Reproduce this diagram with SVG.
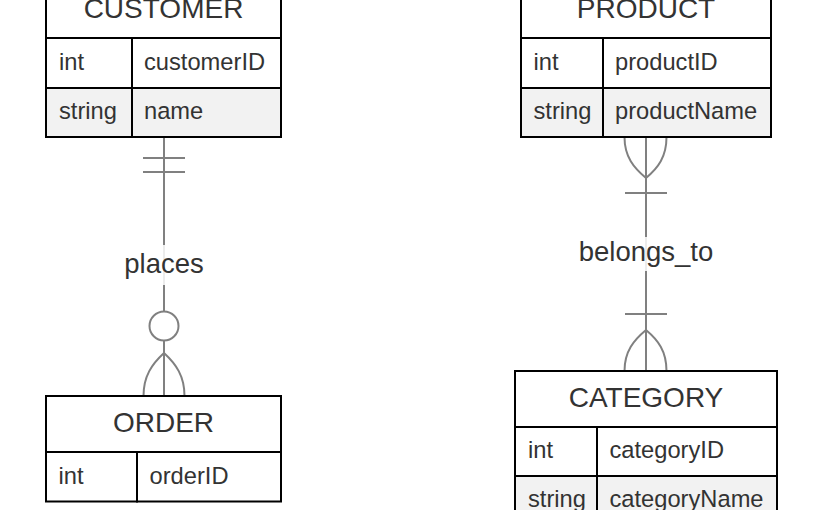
<svg xmlns="http://www.w3.org/2000/svg" width="825" height="510" viewBox="0 0 825 510">
<style>
.box{fill:#ffffff;stroke:#000000;stroke-width:2}
.alt{fill:#f2f2f2;stroke:#000000;stroke-width:2}
.hd{font-family:"Liberation Sans",Arial,sans-serif;font-size:28px;fill:#333333;text-anchor:middle}
.at{font-family:"Liberation Sans",Arial,sans-serif;font-size:23.7px;fill:#333333}
.lb{font-family:"Liberation Sans",Arial,sans-serif;font-size:27.5px;fill:#333333;text-anchor:middle}
.ln{fill:none;stroke:#808080;stroke-width:2}
.lbg{fill:#ffffff;fill-opacity:0.85;stroke:none}
</style>
<rect width="825" height="510" fill="#ffffff"/>
<g id="connectors">
  <g id="places-edge">
    <line class="ln" x1="164" y1="137" x2="164" y2="396"/>
    <line class="ln" x1="143" y1="158" x2="185" y2="158"/>
    <line class="ln" x1="143" y1="172" x2="185" y2="172"/>
    <circle cx="164" cy="326" r="14.5" fill="#ffffff" stroke="#808080" stroke-width="2"/>
    <path class="ln" d="M164,353 C152,364 143.5,376 143.5,396"/>
    <path class="ln" d="M164,353 C176,364 184.5,376 184.5,396"/>
    <rect class="lbg" x="122" y="245" width="84" height="40"/>
    <text class="lb" x="164" y="273">places</text>
  </g>
  <g id="belongs-edge">
    <line class="ln" x1="646" y1="137" x2="646" y2="371"/>
    <path class="ln" d="M646,178 C634,168 624.5,157 624.5,137"/>
    <path class="ln" d="M646,178 C658,168 666.5,157 666.5,137"/>
    <line class="ln" x1="625" y1="193" x2="667" y2="193"/>
    <line class="ln" x1="625" y1="314" x2="667" y2="314"/>
    <path class="ln" d="M646,330 C634,340 624.5,351 624.5,371"/>
    <path class="ln" d="M646,330 C658,340 666.5,351 666.5,371"/>
    <rect class="lbg" x="575" y="237" width="142" height="34"/>
    <text class="lb" x="646" y="261">belongs_to</text>
  </g>
</g>
<g id="CUSTOMER">
  <rect class="box" x="46" y="-18" width="235" height="56"/>
  <text class="hd" x="163.5" y="18">CUSTOMER</text>
  <rect class="box" x="46" y="38" width="86" height="50"/>
  <rect class="box" x="132" y="38" width="149" height="50"/>
  <rect class="alt" x="46" y="88" width="86" height="49"/>
  <rect class="alt" x="132" y="88" width="149" height="49"/>
  <text class="at" x="59" y="70">int</text>
  <text class="at" x="144" y="70">customerID</text>
  <text class="at" x="59" y="119">string</text>
  <text class="at" x="144" y="119">name</text>
</g>
<g id="ORDER">
  <rect class="box" x="46" y="396" width="235" height="56"/>
  <text class="hd" x="163.5" y="432">ORDER</text>
  <rect class="box" x="46" y="452" width="91" height="49.5"/>
  <rect class="box" x="137" y="452" width="144" height="49.5"/>
  <text class="at" x="58.5" y="483.5">int</text>
  <text class="at" x="149.5" y="483.5">orderID</text>
</g>
<g id="PRODUCT">
  <rect class="box" x="521" y="-18" width="250" height="56"/>
  <text class="hd" x="646" y="18">PRODUCT</text>
  <rect class="box" x="521" y="38" width="82" height="50"/>
  <rect class="box" x="603" y="38" width="168" height="50"/>
  <rect class="alt" x="521" y="88" width="82" height="49"/>
  <rect class="alt" x="603" y="88" width="168" height="49"/>
  <text class="at" x="533.5" y="70">int</text>
  <text class="at" x="615" y="70">productID</text>
  <text class="at" x="533.5" y="119">string</text>
  <text class="at" x="615" y="119">productName</text>
</g>
<g id="CATEGORY">
  <rect class="box" x="515" y="371" width="262" height="56"/>
  <text class="hd" x="646" y="407">CATEGORY</text>
  <rect class="box" x="515" y="427" width="82" height="49"/>
  <rect class="box" x="597" y="427" width="180" height="49"/>
  <rect class="alt" x="515" y="476" width="82" height="49"/>
  <rect class="alt" x="597" y="476" width="180" height="49"/>
  <text class="at" x="528" y="458">int</text>
  <text class="at" x="609.5" y="458">categoryID</text>
  <text class="at" x="528" y="507">string</text>
  <text class="at" x="609.5" y="507">categoryName</text>
</g>
</svg>
